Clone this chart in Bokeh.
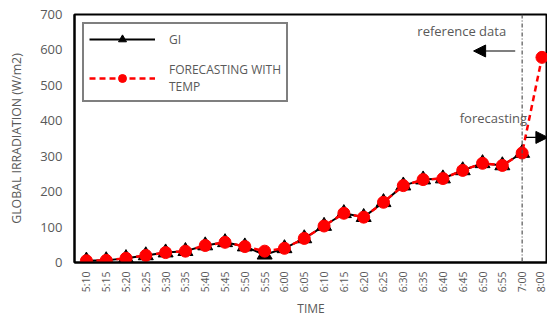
from bokeh.plotting import figure
from bokeh.models import Range1d, Span, Arrow, NormalHead, Label, Legend, LegendItem, FixedTicker
from bokeh.embed import file_html
from bokeh.resources import INLINE

times = ["5:10", "5:15", "5:20", "5:25", "5:30", "5:35", "5:40", "5:45", "5:50", "5:55",
         "6:00", "6:05", "6:10", "6:15", "6:20", "6:25", "6:30", "6:35", "6:40", "6:45",
         "6:50", "6:55", "7:00", "8:00"]
gi = [5, 6, 12, 20, 28, 32, 48, 57, 45, 22, 40, 68, 103, 139, 128, 170, 217, 234, 237, 260, 280, 274, 309]
forecast = [5, 6, 12, 20, 28, 32, 48, 57, 45, 32, 40, 68, 103, 139, 128, 170, 217, 234, 237, 260, 280, 274, 309, 579]
y_ticks = [0, 100, 200, 300, 400, 500, 600, 700]

FONT = "Open Sans"
GRAY = "#595959"

x_gi = list(range(len(gi)))
x_fc = list(range(len(forecast)))

p = figure(width=547, height=320, output_backend="svg", toolbar_location=None,
           x_range=Range1d(-0.6, 23.28), y_range=Range1d(0, 700),
           min_border_left=74, min_border_right=0, min_border_top=14, min_border_bottom=58)
p.background_fill_color = "white"
p.border_fill_color = "white"
p.outline_line_color = "black"
p.outline_line_width = 2
p.xgrid.visible = False
p.ygrid.visible = False

l1 = p.line(x_gi, gi, line_color="black", line_width=2)
m1 = p.scatter(x_gi, gi, marker="triangle", size=15, fill_color="black", line_color="black")
l2 = p.line(x_fc, forecast, line_color="#FF0000", line_width=2.5, line_dash="6 4")
m2 = p.scatter(x_fc, forecast, marker="circle", size=12, fill_color="#FF0000", line_color="#FF0000")

p.add_layout(Span(location=22, dimension="height", line_color="#555555", line_width=1.2,
                  line_dash="4 2 1 2"))

p.add_layout(Arrow(end=NormalHead(size=12, fill_color="black", line_color="black"),
                   x_start=21.65, y_start=597, x_end=19.55, y_end=597,
                   line_color="black", line_width=1.2))
p.add_layout(Arrow(end=NormalHead(size=12, fill_color="black", line_color="black"),
                   x_start=22.2, y_start=353, x_end=23.3, y_end=353,
                   line_color="black", line_width=1.2))
p.add_layout(Label(x=18.95, y=653, text="reference data", text_font=FONT, text_font_size="13px",
                   text_color=GRAY, text_align="center", text_baseline="middle"))
p.add_layout(Label(x=20.55, y=408, text="forecasting", text_font=FONT, text_font_size="13px",
                   text_color=GRAY, text_align="center", text_baseline="middle"))

legend = Legend(items=[LegendItem(label="GI", renderers=[l1, m1]),
                       LegendItem(label="FORECASTING WITH\nTEMP", renderers=[l2, m2])],
                location="top_left")
legend.border_line_color = "black"
legend.border_line_width = 2
legend.label_text_font = FONT
legend.label_text_font_size = "12px"
legend.label_text_color = GRAY
legend.glyph_width = 66
legend.glyph_height = 20
legend.label_height = 14
legend.spacing = 12
legend.padding = 5
legend.margin = 8
legend.label_standoff = 14
p.add_layout(legend)

p.xaxis.ticker = FixedTicker(ticks=x_fc)
p.xaxis.major_label_overrides = {i: t for i, t in enumerate(times)}
p.xaxis.major_label_orientation = 1.5708
p.xaxis.major_label_text_font = FONT
p.xaxis.major_label_text_font_size = "10.5px"
p.xaxis.major_label_text_color = GRAY
p.xaxis.major_tick_line_color = None
p.xaxis.minor_tick_line_color = None
p.xaxis.major_tick_out = 0
p.xaxis.major_tick_in = 0
p.xaxis.minor_tick_out = 0
p.xaxis.major_label_standoff = 9
p.xaxis.axis_line_color = "black"
p.xaxis.axis_line_width = 2
p.xaxis.axis_label = "TIME"
p.xaxis.axis_label_text_font = FONT
p.xaxis.axis_label_text_font_size = "12px"
p.xaxis.axis_label_text_font_style = "normal"
p.xaxis.axis_label_text_color = GRAY
p.xaxis.axis_label_standoff = 5

p.yaxis.ticker = FixedTicker(ticks=y_ticks)
p.yaxis.major_label_text_font = FONT
p.yaxis.major_label_text_font_size = "13px"
p.yaxis.major_label_text_color = GRAY
p.yaxis.major_tick_line_color = None
p.yaxis.minor_tick_line_color = None
p.yaxis.major_tick_out = 0
p.yaxis.major_tick_in = 0
p.yaxis.minor_tick_out = 0
p.yaxis.axis_line_color = "black"
p.yaxis.axis_line_width = 2
p.yaxis.major_label_standoff = 12
p.yaxis.axis_label = "GLOBAL IRRADIATION (W/m2)"
p.yaxis.axis_label_text_font = FONT
p.yaxis.axis_label_text_font_size = "12.3px"
p.yaxis.axis_label_text_font_style = "normal"
p.yaxis.axis_label_text_color = GRAY
p.yaxis.axis_label_standoff = 12

open("out.html", "w").write(file_html(p, INLINE))
